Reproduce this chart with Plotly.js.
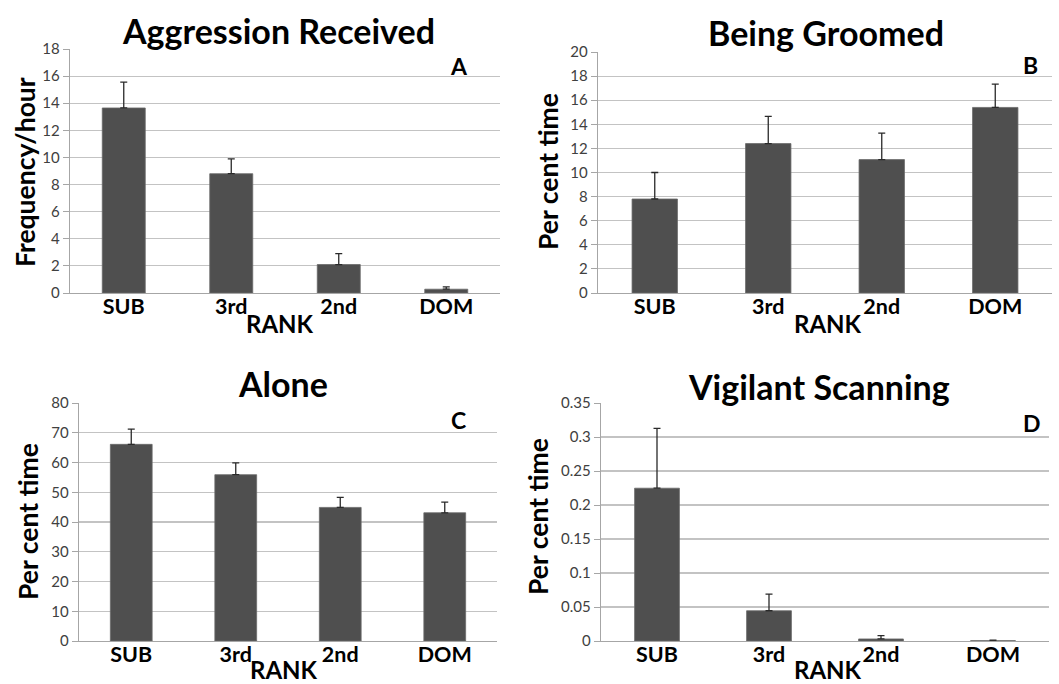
<!DOCTYPE html>
<html>
<head>
<meta charset="utf-8">
<script src="https://cdn.plot.ly/plotly-3.0.1.min.js"></script>
<style>html,body{margin:0;padding:0;background:#fff;}#chart{width:1059px;height:684px;}</style>
</head>
<body>
<div id="chart"></div>
<script>
// ---- data ----
const ranks = ['SUB', '3rd', '2nd', 'DOM'];
const aggression = [13.65, 8.8, 2.1, 0.28];
const aggressionErr = [1.9, 1.1, 0.8, 0.17];
const groomed = [7.8, 12.4, 11.07, 15.4];
const groomedErr = [2.2, 2.25, 2.2, 1.93];
const alone = [66.1, 55.9, 44.9, 43.1];
const aloneErr = [5.1, 4.0, 3.4, 3.6];
const vigilant = [0.2247, 0.0445, 0.003, 0.0005];
const vigilantErr = [0.088, 0.0245, 0.005, 0.0006];

const panelTitles = ['Aggression Received', 'Being Groomed', 'Alone', 'Vigilant Scanning'];
const yTitles = ['Frequency/hour', 'Per cent time', 'Per cent time', 'Per cent time'];
const panelLetters = ['A', 'B', 'C', 'D'];
const xTitle = 'RANK';

// ---- layout helpers ----
const W = 1059, H = 684;
const px = x => x / W;
const py = y => 1 - y / H;
const FONT = 'Lato, "Open Sans", sans-serif';
const barColor = '#4f4f4f';
const gridColor = '#c3c3c3';

const series = [
  {y: aggression, e: aggressionErr, range: [0, 18], dtick: 2},
  {y: groomed, e: groomedErr, range: [0, 20], dtick: 2},
  {y: alone, e: aloneErr, range: [0, 80], dtick: 10},
  {y: vigilant, e: vigilantErr, range: [0, 0.35], dtick: 0.05}
];

// plot-area boxes in pixels [left, right, top, bottom]
const boxes = [
  [70, 500, 49, 293],
  [598, 1052, 52, 293],
  [79, 497, 403, 641],
  [601, 1049, 403, 641]
];
const titlePos = [[278, 30], [826, 32], [283, 383], [819, 386]];
const yTitlePos = [[25, 172], [548, 172], [28, 522], [538, 517]];
const rankPos = [[280, 324], [828, 324], [284, 669], [828, 669]];
const letterPos = [[459, 66], [1030, 65], [458, 420], [1032, 423]];

const data = [];
const layout = {
  width: W, height: H,
  margin: {l: 0, r: 0, t: 0, b: 0},
  paper_bgcolor: '#fff', plot_bgcolor: '#fff',
  showlegend: false,
  bargap: 0.6,
  font: {family: FONT, color: '#000'},
  annotations: []
};

series.forEach((s, i) => {
  const n = i + 1;
  const xa = 'x' + (n === 1 ? '' : n), ya = 'y' + (n === 1 ? '' : n);
  data.push({
    type: 'bar', x: ranks, y: s.y, xaxis: xa, yaxis: ya,
    marker: {color: barColor, line: {color: '#6a6a6a', width: 0.8}},
    error_y: {type: 'data', symmetric: false, array: s.e, arrayminus: s.e.map(() => 0),
              color: '#2a2a2a', thickness: 1.3, width: 3.5},
    hoverinfo: 'none'
  });
  const b = boxes[i];
  layout['xaxis' + (n === 1 ? '' : n)] = {
    domain: [px(b[0]), px(b[1])], anchor: ya,
    showline: true, linecolor: '#a6a6a6', linewidth: 1.3,
    ticks: '', showgrid: false, zeroline: false,
    tickmode: 'array', tickvals: ranks, ticktext: ranks.map(r => '<b>' + r + '</b>'),
    ticklabelstandoff: -6,
    tickfont: {family: FONT, size: 21.5, color: '#000'},
    fixedrange: true
  };
  layout['yaxis' + (n === 1 ? '' : n)] = {
    domain: [py(b[3]), py(b[2])], anchor: xa,
    range: s.range, dtick: s.dtick, tick0: 0,
    showline: true, linecolor: '#a6a6a6', linewidth: 1.3,
    ticks: 'outside', ticklen: 6, tickcolor: '#a6a6a6',
    showgrid: true, gridcolor: gridColor, gridwidth: 1.2, zeroline: false,
    tickfont: {family: FONT, size: 15, color: '#404040'},
    fixedrange: true
  };
  layout.annotations.push(
    {text: '<b>' + panelTitles[i] + '</b>', x: px(titlePos[i][0]), y: py(titlePos[i][1]), xref: 'paper', yref: 'paper',
     showarrow: false, xanchor: 'center', yanchor: 'middle',
     font: {family: FONT, size: 34, color: '#000'}},
    {text: '<b>' + yTitles[i] + '</b>', x: px(yTitlePos[i][0]), y: py(yTitlePos[i][1]), xref: 'paper', yref: 'paper',
     showarrow: false, xanchor: 'center', yanchor: 'middle', textangle: -90,
     font: {family: FONT, size: 26.5, color: '#000'}},
    {text: '<b>' + xTitle + '</b>', x: px(rankPos[i][0]), y: py(rankPos[i][1]), xref: 'paper', yref: 'paper',
     showarrow: false, xanchor: 'center', yanchor: 'middle',
     font: {family: FONT, size: 24, color: '#000'}},
    {text: '<b>' + panelLetters[i] + '</b>', x: px(letterPos[i][0]), y: py(letterPos[i][1]), xref: 'paper', yref: 'paper',
     showarrow: false, xanchor: 'center', yanchor: 'middle',
     font: {family: FONT, size: 23, color: '#000'}}
  );
});

Plotly.newPlot('chart', data, layout, {displayModeBar: false, staticPlot: true});
</script>
</body>
</html>
